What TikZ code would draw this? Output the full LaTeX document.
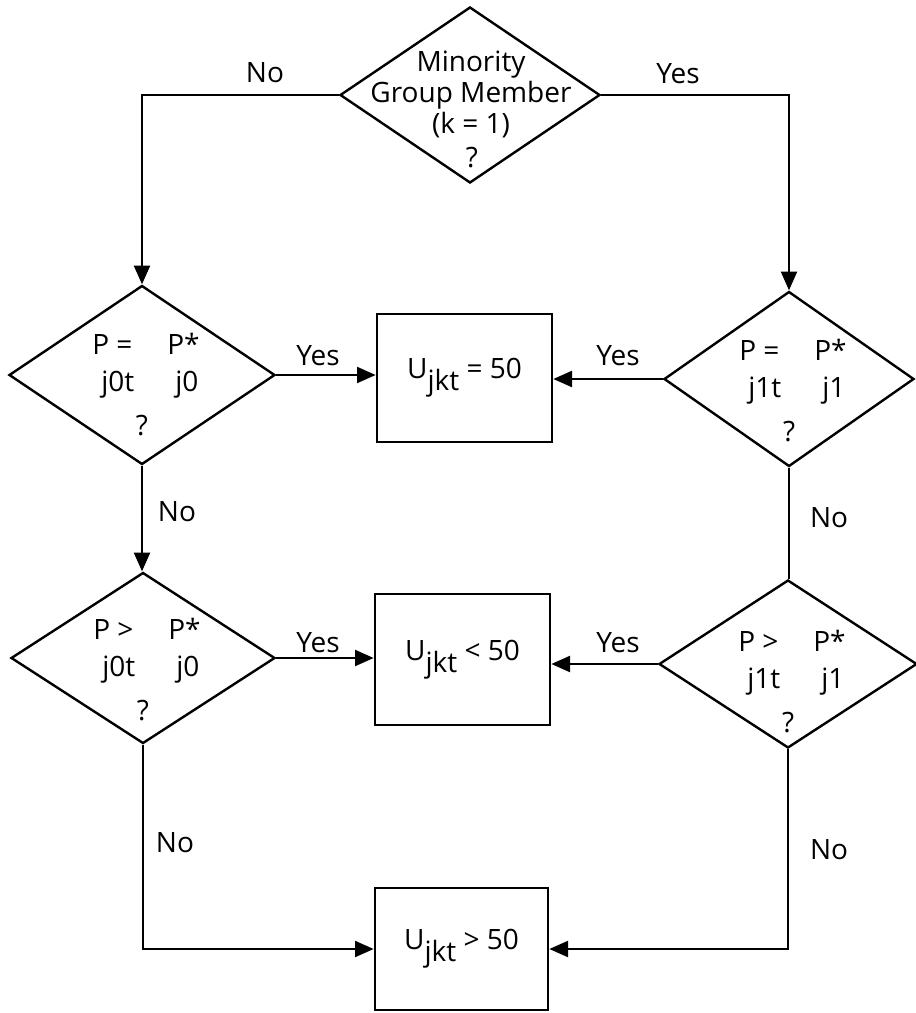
\documentclass[tikz,border=0pt]{standalone}
\usepackage{fontspec}
\setmainfont{Open Sans}
\usetikzlibrary{shapes.geometric,arrows.meta,calc}
\newcommand\condtext[4]{%
  \node[txt,anchor=base west] (#1-a) at ($(#1)+(-50,{-21+#4})$) {P #2};
  \node[txt,anchor=base west] (#1-b) at ($(#1)+(25,{-21+#4})$) {P*};
  \node[txt,anchor=base west] (#1-c) at ($(#1)+(-41,{16+#4})$) {j#3t};
  \node[txt,anchor=base west] (#1-d) at ($(#1)+(33,{16+#4})$) {j#3};
  \node[txt,anchor=base] (#1-e) at ($(#1)+(0,{60+#4})$) {?};
}
\begin{document}
\begin{tikzpicture}[x=0.75pt,y=-0.75pt,
  every node/.style={font=\fontsize{21}{25}\selectfont},
  dia/.style={draw,line width=1.8pt,shape=diamond,inner sep=0pt},
  box/.style={draw,line width=2pt,rectangle,inner sep=0pt},
  txt/.style={inner sep=0pt},
  lbl/.style={inner sep=0pt},
  conn/.style={line width=1.6pt},
  arr/.style={conn,-{Triangle[length=14pt,width=12pt]}},
]
\useasboundingbox (0,0) rectangle (916,1013);

% decision shapes
\node[dia,minimum width=195pt,minimum height=132pt] (d0) at (470,95) {};
\node[dia,minimum width=199.5pt,minimum height=134.25pt] (d1) at (142,375) {};
\node[dia,minimum width=187.5pt,minimum height=131.25pt] (d2) at (789,379) {};
\node[dia,minimum width=198pt,minimum height=128.25pt] (d3) at (143,658) {};
\node[dia,minimum width=193.5pt,minimum height=126pt] (d4) at (788,664) {};

% result boxes
\node[box,minimum width=131.25pt,minimum height=96pt] (b1) at (464.5,378) {};
\node[box,minimum width=131.25pt,minimum height=98.25pt] (b2) at (462.5,659.5) {};
\node[box,minimum width=129.75pt,minimum height=91.5pt] (b3) at (461.5,949) {};

% texts of the top decision
\node[txt,anchor=base] (t1) at (471,72) {Minority};
\node[txt,anchor=base] (t2) at (471,103) {Group Member};
\node[txt,anchor=base] (t3) at (471,134) {(k = 1)};
\node[txt,anchor=base] (t4) at (472,167) {?};

\condtext{d1}{=}{0}{0}
\condtext{d2}{=}{1}{2}
\condtext{d3}{>}{0}{2}
\condtext{d4}{>}{1}{8}

\node[txt] (u1) at (b1) {U\raisebox{-0.8ex}{jkt} = 50};
\node[txt] (u2) at (b2) {U\raisebox{-0.8ex}{jkt} < 50};
\node[txt] (u3) at (b3) {U\raisebox{-0.8ex}{jkt} > 50};

% connectors
\draw[arr] (d0.west) -| (d1.north);
\draw[arr] (d0.east) -| (d2.north);
\draw[arr] (d1.east) -- (d1.east -| b1.west);
\draw[arr] (d2.west) -- (d2.west -| b1.east);
\draw[arr] (d1.south) -- (d1.south |- d3.north);
\draw[conn] (d2.south) -- (d2.south |- d4.north);
\draw[arr] (d3.east) -- (d3.east -| b2.west);
\draw[arr] (d4.west) -- (d4.west -| b2.east);
\draw[arr] (d3.south) |- (b3.west);
\draw[arr] (d4.south) |- (b3.east);

% labels
\node[lbl] (n1) at (265,73) {No};
\node[lbl] (y1) at (678,74) {Yes};
\node[lbl] (y2) at (318,356) {Yes};
\node[lbl] (y3) at (618,356) {Yes};
\node[lbl] (n2) at (177,512) {No};
\node[lbl] (n3) at (829,518) {No};
\node[lbl] (y4) at (318,643) {Yes};
\node[lbl] (y5) at (618,643) {Yes};
\node[lbl] (n4) at (175,843) {No};
\node[lbl] (n5) at (829,850) {No};
\end{tikzpicture}
\end{document}
